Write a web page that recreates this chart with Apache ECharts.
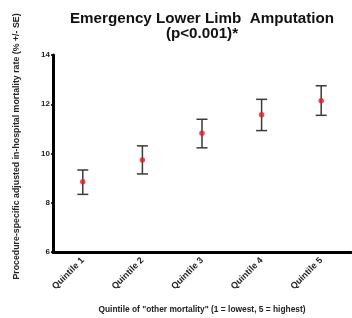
<!DOCTYPE html>
<html>
<head>
<meta charset="utf-8">
<script src="https://cdn.jsdelivr.net/npm/echarts@6/dist/echarts.min.js"></script>
<style>
html,body{margin:0;padding:0;background:#fff;}
#chart{width:352px;height:318px;}
</style>
</head>
<body>
<div id="chart"></div>
<script>
const categories = ['Quintile 1', 'Quintile 2', 'Quintile 3', 'Quintile 4', 'Quintile 5'];
const means = [8.85, 9.74, 10.82, 11.57, 12.14];
const lower = [8.34, 9.17, 10.23, 10.93, 11.55];
const upper = [9.33, 10.31, 11.39, 12.20, 12.75];
const yTicks = [6, 8, 10, 12, 14];

const chart = echarts.init(document.getElementById('chart'), null, {renderer: 'canvas'});
const font = 'Liberation Sans, Arial, sans-serif';

const errData = categories.map((c, i) => [i, lower[i], upper[i]]);

chart.setOption({
  animation: false,
  backgroundColor: '#fff',
  title: {
    text: 'Emergency Lower Limb  Amputation\n(p<0.001)*',
    left: 197,
    textAlign: 'center',
    top: 6,
    textStyle: {fontFamily: font, fontSize: 15.2, fontWeight: 'bold', color: '#111', lineHeight: 15}
  },
  grid: {left: 53, right: 1, top: 55, bottom: 66, containLabel: false, outerBoundsMode: 'none'},
  xAxis: {
    type: 'category',
    data: categories,
    name: 'Quintile of "other mortality" (1 = lowest, 5 = highest)',
    nameLocation: 'middle',
    nameGap: 54,
    nameTextStyle: {fontFamily: font, fontSize: 8.4, fontWeight: 'bold', color: '#222'},
    axisLine: {lineStyle: {color: '#000', width: 3}},
    axisTick: {alignWithLabel: true, length: 3, lineStyle: {color: '#000', width: 1.5}},
    axisLabel: {rotate: 45, fontFamily: font, fontSize: 9, fontWeight: 'bold', color: '#222', margin: 7}
  },
  yAxis: {
    type: 'value',
    min: 6, max: 14, interval: 2,
    name: 'Procedure-specific adjusted in-hospital mortality rate (% +/- SE)',
    nameLocation: 'middle',
    nameGap: 32,
    nameTextStyle: {fontFamily: font, fontSize: 8.8, fontWeight: 'bold', color: '#222', padding: [0, 0, 0, 14]},
    splitLine: {show: false},
    axisLine: {show: true, lineStyle: {color: '#000', width: 3}},
    axisTick: {show: true, length: 2, lineStyle: {color: '#000', width: 1.5}},
    axisLabel: {fontFamily: font, fontSize: 8, fontWeight: 'bold', color: '#222', margin: 3,
      formatter: v => yTicks.includes(v) ? String(v) : ''}
  },
  series: [
    {
      type: 'custom',
      data: errData,
      z: 2,
      renderItem: function (params, api) {
        const x = api.value(0);
        const lo = api.coord([x, api.value(1)]);
        const hi = api.coord([x, api.value(2)]);
        const hw = 5.5;
        const style = {stroke: '#3a3a3a', lineWidth: 1.5, fill: null};
        return {
          type: 'group',
          children: [
            {type: 'line', shape: {x1: lo[0], y1: lo[1], x2: hi[0], y2: hi[1]}, style: style},
            {type: 'line', shape: {x1: lo[0] - hw, y1: lo[1], x2: lo[0] + hw, y2: lo[1]}, style: style},
            {type: 'line', shape: {x1: hi[0] - hw, y1: hi[1], x2: hi[0] + hw, y2: hi[1]}, style: style}
          ]
        };
      }
    },
    {
      type: 'scatter',
      data: means,
      z: 3,
      symbol: 'circle',
      symbolSize: 5.5,
      itemStyle: {color: '#e8192c'}
    }
  ]
});
</script>
</body>
</html>
